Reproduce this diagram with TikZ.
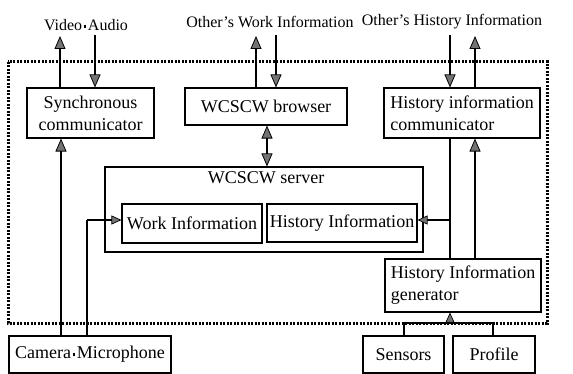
\documentclass[tikz,border=0pt]{standalone}
\usepackage{fontspec}
\setmainfont{Liberation Serif}
\usetikzlibrary{arrows.meta}
\newcommand{\sqdot}{\hspace{1.5pt}\raisebox{0.32ex}{\rule{2.8pt}{2.8pt}}\hspace{1.5pt}}
\tikzset{
  box/.style={draw, line width=1.1pt, inner sep=0pt, align=center, font=\fontsize{18}{22}\selectfont},
  lbl/.style={inner sep=0pt, font=\fontsize{16}{19}\selectfont},
  tip/.style={-{Triangle[length=13pt,width=11pt,fill=black!55,line width=0.8pt]}},
  tipb/.style={{Triangle[length=13pt,width=11pt,fill=black!55,line width=0.8pt]}-{Triangle[length=13pt,width=11pt,fill=black!55,line width=0.8pt]}},
  stip/.style={-{Triangle[length=10pt,width=9pt,fill=black!55,line width=0.7pt]}},
  thk/.style={line width=2pt},
  thn/.style={line width=1.2pt},
  frame/.style={line width=3pt, dash pattern=on 2pt off 1.5pt},
}
\begin{document}
\begin{tikzpicture}[x=1pt,y=-1pt]
\useasboundingbox (0,0) rectangle (573,374);
% dotted frame
\draw[frame] (8,62) rectangle (547,323);
% boxes
\node[box, minimum width=127pt, minimum height=50pt] (sync) at (90.5,113) {Synchronous\\communicator};
\node[box, minimum width=162pt, minimum height=37pt] (browser) at (266,106.5) {WCSCW browser};
\node[box, minimum width=156pt, minimum height=50pt, align=left] (hcomm) at (462,113) {History information\\communicator};
\node[box, minimum width=318pt, minimum height=85pt] (server) at (264,209.5) {};
\node[lbl, font=\fontsize{18}{22}\selectfont] (servlbl) at (266,178) {WCSCW server};
\node[box, minimum width=140pt, minimum height=39pt] (work) at (192,223.5) {Work Information};
\node[box, minimum width=150pt, minimum height=38pt] (hist) at (342,223) {History Information};
\node[box, minimum width=156pt, minimum height=53pt, align=left] (gen) at (463,285.5) {History Information\\generator};
\node[box, minimum width=162pt, minimum height=37pt] (cam) at (90,354.5) {Camera\sqdot Microphone};
\node[box, minimum width=81pt, minimum height=37pt] (sens) at (403.5,354.5) {Sensors};
\node[box, minimum width=82pt, minimum height=37pt] (prof) at (494,354.5) {Profile};
% labels
\node[lbl] (va) at (86,25) {Video\sqdot Audio};
\node[lbl] (owi) at (270,22) {Other's Work Information};
\node[lbl] (ohi) at (452,22) {Other's History Information};
% free-end coordinates
\coordinate (vaU) at (60,36);
\coordinate (vaD) at (95,35);
\coordinate (owU) at (256,36);
\coordinate (owD) at (276,35);
\coordinate (ohD) at (450,35);
\coordinate (ohU) at (475,36);
\coordinate (camW) at (87,220);
\coordinate (hJ) at (450,220);
\coordinate (sJ) at (404,323);
\coordinate (pJ) at (493,323);
\coordinate (gJ) at (450,323);
% outer arrows
\draw[thk,tip] (sync.north -| vaU) -- (vaU);
\draw[thk,tip] (vaD) -- (sync.north -| vaD);
\draw[thk,tip] (browser.north -| owU) -- (owU);
\draw[thk,tip] (owD) -- (browser.north -| owD);
\draw[thk,tip] (ohD) -- (hcomm.north -| ohD);
\draw[thk,tip] (hcomm.north -| ohU) -- (ohU);
% browser <-> server
\draw[thk,tipb] (browser.south -| 267,0) -- (server.north -| 267,0);
% camera
\draw[thn,tip] (cam.north -| 61,0) -- (sync.south -| 61,0);
\draw[thn] (cam.north -| camW) -- (camW);
\draw[line width=1.6pt,stip] (camW) -- (work.west |- camW);
% history lines
\draw[thn] (hcomm.south -| hJ) -- (gen.north -| hJ);
\draw[line width=2pt,stip] (hJ) -- (hist.east |- hJ);
\draw[thk,tip] (gen.north -| ohU) -- (hcomm.south -| ohU);
% sensors / profile
\draw[thn] (sens.north -| sJ) -- (sJ) -- (pJ) -- (prof.north -| pJ);
\draw[thn,stip] (gJ) -- (gen.south -| gJ);
\end{tikzpicture}
\end{document}
